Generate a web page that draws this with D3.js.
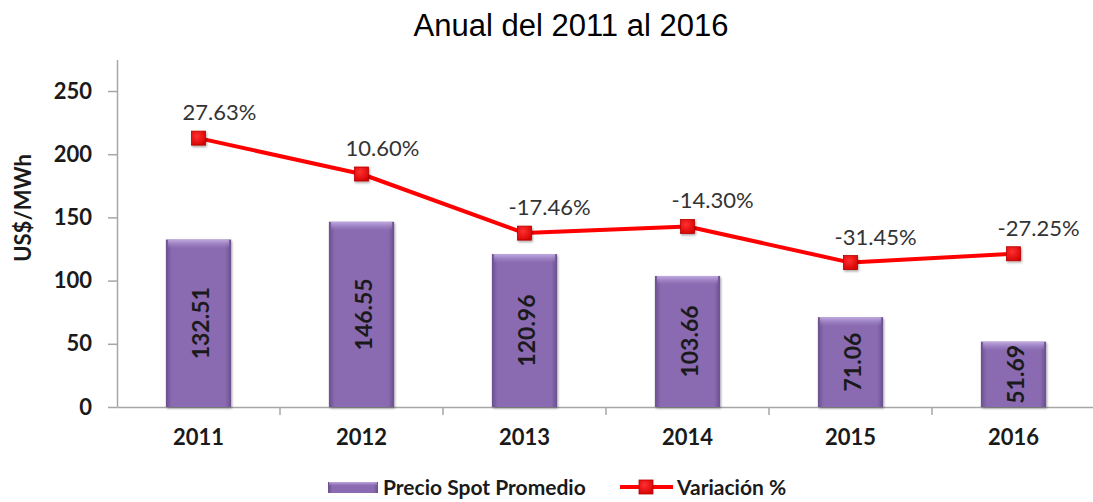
<!DOCTYPE html>
<html>
<head>
<meta charset="utf-8">
<script src="https://cdn.jsdelivr.net/npm/d3@7/dist/d3.min.js"></script>
<style>
  html, body { margin: 0; padding: 0; background: #ffffff; }
  svg { display: block; }
</style>
</head>
<body>
<svg id="chart" width="1093" height="502"></svg>
<script>
// ---- data ----
const years = ["2011", "2012", "2013", "2014", "2015", "2016"];
const precioSpot = [132.51, 146.55, 120.96, 103.66, 71.06, 51.69];
const variacion = [27.63, 10.60, -17.46, -14.30, -31.45, -27.25];
const yTicks = [0, 50, 100, 150, 200, 250];
const titleText = "Anual del 2011 al 2016";
const yTitle = "US$/MWh";
const legendBar = "Precio Spot Promedio";
const legendLine = "Variación %";

// ---- layout ----
const svg = d3.select("#chart");
const axisColor = "#a6a6a6";
const boldFont = "Lato, 'Open Sans', sans-serif";

const x = d3.scaleBand().domain(years).range([117, 1095]).paddingInner(0.6).paddingOuter(0.3);
const y = d3.scaleLinear().domain([0, 275]).range([407, 59.4]);
const y2 = d3.scaleLinear().domain([-100, 50]).range([y(0), y(250)]);

const defs = svg.append("defs");
const gBar = defs.append("linearGradient").attr("id", "barH").attr("x1", 0).attr("x2", 1).attr("y1", 0).attr("y2", 0);
gBar.append("stop").attr("offset", "0%").attr("stop-color", "#6a4f8e");
gBar.append("stop").attr("offset", "9%").attr("stop-color", "#8a6bb1");
gBar.append("stop").attr("offset", "91%").attr("stop-color", "#8a6bb1");
gBar.append("stop").attr("offset", "100%").attr("stop-color", "#6a4f8e");
const gTop = defs.append("linearGradient").attr("id", "barTop").attr("x1", 0).attr("x2", 0).attr("y1", 0).attr("y2", 1);
gTop.append("stop").attr("offset", "0%").attr("stop-color", "#c3aee2").attr("stop-opacity", 0.95);
gTop.append("stop").attr("offset", "100%").attr("stop-color", "#a58bcc").attr("stop-opacity", 0);
const gMark = defs.append("radialGradient").attr("id", "mark").attr("cx", "40%").attr("cy", "35%").attr("r", "75%");
gMark.append("stop").attr("offset", "0%").attr("stop-color", "#ff3030");
gMark.append("stop").attr("offset", "100%").attr("stop-color", "#d40000");
const shadow = defs.append("filter").attr("id", "shadow").attr("x", "-30%").attr("y", "-30%").attr("width", "160%").attr("height", "160%");
shadow.append("feDropShadow").attr("dx", 1).attr("dy", 1.5).attr("stdDeviation", 1.2).attr("flood-color", "#000").attr("flood-opacity", 0.35);

// title
svg.append("text").attr("x", 571).attr("y", 36).attr("text-anchor", "middle")
  .style("font-family", "'Liberation Sans', Arial, sans-serif").style("font-size", "31px").attr("fill", "#000")
  .text(titleText);

// y axis
const yAxis = svg.append("g").attr("transform", "translate(117,0)")
  .call(d3.axisLeft(y).tickValues(yTicks).tickSize(9).tickPadding(16).tickSizeOuter(0));
yAxis.select(".domain").attr("stroke", axisColor).attr("stroke-width", 1.5);
yAxis.selectAll(".tick line").attr("stroke", axisColor).attr("stroke-width", 1.5);
yAxis.selectAll(".tick text").style("font-family", boldFont).style("font-weight", "bold")
  .style("font-size", "22px").attr("fill", "#1a1a1a");

// x axis
const xAxis = svg.append("g").attr("transform", `translate(0,${y(0)})`)
  .call(d3.axisBottom(x).tickSize(0).tickPadding(22).tickSizeOuter(0));
xAxis.select(".domain").attr("stroke", axisColor).attr("stroke-width", 1.5);
xAxis.selectAll(".tick text").style("font-family", boldFont).style("font-weight", "bold")
  .style("font-size", "22px").attr("fill", "#1a1a1a");
// category boundary ticks
svg.append("g").selectAll("line").data(years.slice(1)).join("line")
  .attr("x1", d => x(d) - x.step() * x.paddingInner() / 2)
  .attr("x2", d => x(d) - x.step() * x.paddingInner() / 2)
  .attr("y1", y(0)).attr("y2", y(0) + 8)
  .attr("stroke", axisColor).attr("stroke-width", 1.5);

// y title
svg.append("text").attr("transform", `translate(31,${(y(0) + y(250)) / 2 - 41}) rotate(-90)`)
  .attr("text-anchor", "middle")
  .style("font-family", boldFont).style("font-weight", "bold").style("font-size", "22px").attr("fill", "#1a1a1a")
  .text(yTitle);

// bars
const bars = svg.append("g");
bars.selectAll("rect.bar").data(years).join("rect").attr("class", "bar")
  .attr("x", d => x(d)).attr("width", x.bandwidth())
  .attr("y", (d, i) => y(precioSpot[i])).attr("height", (d, i) => y(0) - y(precioSpot[i]))
  .attr("fill", "url(#barH)").attr("filter", "url(#shadow)");
bars.selectAll("rect.bevel").data(years).join("rect").attr("class", "bevel")
  .attr("x", d => x(d) + 2).attr("width", x.bandwidth() - 4)
  .attr("y", (d, i) => y(precioSpot[i])).attr("height", 9)
  .attr("fill", "url(#barTop)");
bars.selectAll("text").data(years).join("text")
  .attr("transform", (d, i) => `translate(${x(d) + x.bandwidth() / 2 + 1},${(y(precioSpot[i]) + y(0)) / 2}) rotate(-90)`)
  .attr("text-anchor", "middle").attr("dominant-baseline", "central")
  .style("font-family", boldFont).style("font-weight", "bold").style("font-size", "23px").attr("fill", "#1a1a1a")
  .text((d, i) => precioSpot[i].toFixed(2));

// line
const cx = d => x(d) + x.bandwidth() / 2;
const line = d3.line().x(d => cx(d[0])).y(d => y2(d[1]));
const pts = years.map((d, i) => [d, variacion[i]]);
svg.append("path").datum(pts).attr("d", line).attr("fill", "none")
  .attr("stroke", "#ff0000").attr("stroke-width", 4).attr("stroke-linejoin", "round");
svg.append("g").selectAll("rect").data(pts).join("rect")
  .attr("x", d => cx(d[0]) - 7).attr("y", d => y2(d[1]) - 7).attr("width", 14).attr("height", 14)
  .attr("fill", "url(#mark)").attr("stroke", "#b80000").attr("stroke-width", 0.8).attr("filter", "url(#shadow)");
svg.append("g").selectAll("text").data(pts).join("text")
  .attr("x", d => cx(d[0]) - 16).attr("y", d => y2(d[1]) - 18)
  .style("font-family", boldFont).style("font-size", "22px").attr("fill", "#333")
  .text(d => d[1].toFixed(2) + "%");

// legend
const lg = svg.append("g");
lg.append("rect").attr("x", 328).attr("y", 482).attr("width", 50).attr("height", 11).attr("fill", "url(#barH)");
lg.append("rect").attr("x", 329).attr("y", 482).attr("width", 48).attr("height", 4).attr("fill", "url(#barTop)");
lg.append("text").attr("x", 383).attr("y", 495)
  .style("font-family", boldFont).style("font-weight", "bold").style("font-size", "21px").attr("fill", "#1a1a1a")
  .text(legendBar);
lg.append("line").attr("x1", 620).attr("x2", 673).attr("y1", 487).attr("y2", 487)
  .attr("stroke", "#ff0000").attr("stroke-width", 4);
lg.append("rect").attr("x", 639).attr("y", 480).attr("width", 14).attr("height", 14)
  .attr("fill", "url(#mark)").attr("stroke", "#b80000").attr("stroke-width", 0.8);
lg.append("text").attr("x", 677).attr("y", 495)
  .style("font-family", boldFont).style("font-weight", "bold").style("font-size", "21px").attr("fill", "#1a1a1a")
  .text(legendLine);
</script>
</body>
</html>
